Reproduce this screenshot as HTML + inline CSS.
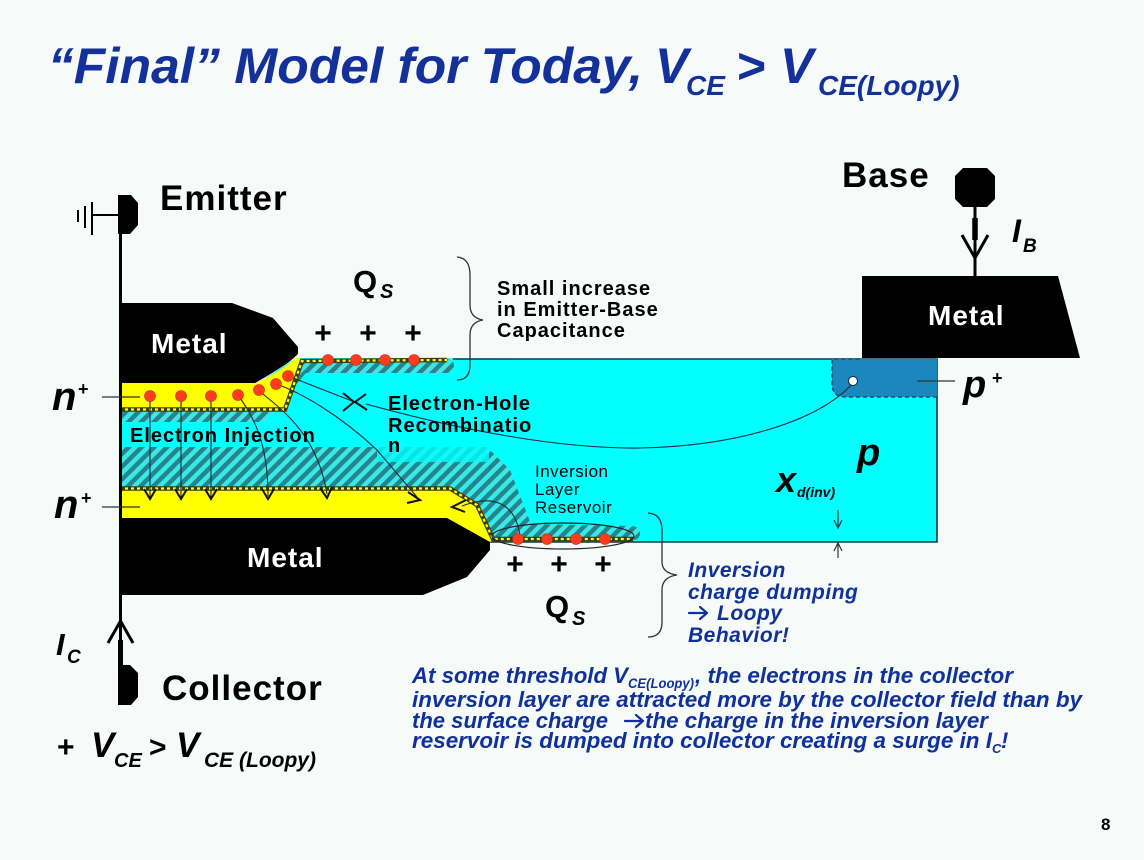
<!DOCTYPE html>
<html>
<head>
<meta charset="utf-8">
<style>
  html, body { margin:0; padding:0; background:#f6faf8; }
  svg { display:block; }
  text { font-family: "Liberation Sans", Arial, sans-serif; }
</style>
</head>
<body>
<svg width="1144" height="860" viewBox="0 0 1144 860" xmlns="http://www.w3.org/2000/svg">
  <defs>
    <pattern id="hatch" width="9" height="9" patternUnits="userSpaceOnUse" patternTransform="rotate(45)">
      <rect width="9" height="9" fill="#3ae8e8"/>
      <rect width="4.5" height="9" fill="#23868c"/>
    </pattern>
  </defs>

  <rect width="1144" height="860" fill="#f6faf8"/>

  <!-- Title -->
  <g fill="#14309a" font-weight="bold" font-style="italic">
    <text x="48" y="83" font-size="50" textLength="595" lengthAdjust="spacingAndGlyphs">“Final” Model for Today,</text>
    <text x="655" y="83" font-size="50">V</text>
    <text x="686" y="95" font-size="28">CE</text>
    <text x="737" y="83" font-size="50" font-style="normal">&gt;</text>
    <text x="780" y="83" font-size="50">V</text>
    <text x="818" y="95" font-size="28">CE(Loopy)</text>
  </g>

  <!-- Cyan body -->
  <polygon points="258,383 296,358 937,359 937,542 490,542 447,518 119,518 119,383" fill="#00ffff"/>
  <polyline points="453,359 937,359 937,542 490,542" fill="none" stroke="#17393a" stroke-width="1.6"/>

  <!-- p+ region -->
  <path d="M832,359 L937,359 L937,397 L846,397 Q832,397 832,384 Z" fill="#1b88bd"/>
  <path d="M937,397 L846,397 Q832,397 832,384 L832,359 L862,359" fill="none" stroke="#1a3a5a" stroke-width="1.3" stroke-dasharray="4 3"/>

  <!-- Emitter depletion (hatched) -->
  <path d="M119,405 L282,405 L298,359 L447,359 Q454,359 454,366 Q454,373 447,373 L306,373 L264,422 L119,422 Z" fill="url(#hatch)"/>
  <!-- Emitter n+ -->
  <path d="M119,383 L256,383 Q280,372 297,357 L303,361 L285,408 L119,408 Z" fill="#ffff00"/>
  <polyline points="119,409.5 285,409.5 302,361 447,360" fill="none" stroke="#3b3b10" stroke-width="4.5"/>
  <polyline points="119,409.5 285,409.5 302,361 447,360" fill="none" stroke="#ffff00" stroke-width="2.2" stroke-dasharray="3 3"/>

  <!-- Collector depletion (hatched) -->
  <path d="M119,447 L487,447 L510,470 L531,524 L632,526 Q640,527 640,533 Q640,540 632,540 L493,540 L477,505 L450,488 L119,488 Z" fill="url(#hatch)"/>
  <rect x="377" y="446" width="112" height="16" fill="#00ffff" opacity="0.78"/>
  <!-- Collector n+ -->
  <path d="M119,490 L450,490 L477,506 L493,540 L490,542 L447,518 L119,518 Z" fill="#ffff00"/>
  <polyline points="119,488.5 450,488.5 477,505 493,539 633,539" fill="none" stroke="#3b3b10" stroke-width="4.5"/>
  <polyline points="119,488.5 450,488.5 477,505 493,539 633,539" fill="none" stroke="#ffff00" stroke-width="2.2" stroke-dasharray="3 3"/>

  <!-- Metals -->
  <path d="M119,303 L232,303 L273,318 L298,347 L298,354 Q290,362 280,368 Q266,377 255,383 L119,383 Z" fill="#000"/>
  <path d="M119,518 L447,518 L490,542 L490,550 L467,577 L423,595 L119,595 Z" fill="#000"/>
  <path d="M862,276 L1058,276 L1080,358 L862,358 Z" fill="#000"/>

  <!-- Electron flow lines -->
  <g fill="none" stroke="#1c2b3a" stroke-width="1.1">
    <path d="M150,396 L150,497"/>
    <path d="M181,396 L181,497"/>
    <path d="M211,396 L211,497"/>
    <path d="M238,395 C252,415 268,440 268,496"/>
    <path d="M259,391 C290,415 318,440 327,494"/>
    <path d="M276,384 C300,392 340,415 377,450 L417,497"/>
    <path d="M288,376 L352,401"/>
    <path d="M520,536 C515,500 490,495 462,506"/>
    <path d="M853,383 C820,420 740,446 640,448 C560,449 460,430 366,404"/>
  </g>
  <g fill="none" stroke="#111" stroke-width="2">
    <polyline points="144,489 150,499 156,489"/>
    <polyline points="175,489 181,499 187,489"/>
    <polyline points="205,489 211,499 217,489"/>
    <polyline points="262,489 268,499 274,489"/>
    <polyline points="320,488 327,498 332,487"/>
    <polyline points="408,492 420,500 407,503"/>
    <polyline points="466,500 452,507 465,512"/>
    <polyline points="343,393 354,402 343,411"/>
    <polyline points="366,394 355,402 367,410"/>
  </g>

  <!-- Red electrons -->
  <g fill="#ff3c1e" stroke="#c82a10" stroke-width="0.6">
    <circle cx="150" cy="396" r="5.5"/>
    <circle cx="181" cy="396" r="5.5"/>
    <circle cx="211" cy="396" r="5.5"/>
    <circle cx="238" cy="395" r="5.5"/>
    <circle cx="259" cy="390" r="5.5"/>
    <circle cx="276" cy="384" r="5.5"/>
    <circle cx="288" cy="376" r="5.5"/>
    <circle cx="328" cy="360" r="5.5"/>
    <circle cx="356" cy="360" r="5.5"/>
    <circle cx="385" cy="360" r="5.5"/>
    <circle cx="414" cy="360" r="5.5"/>
    <circle cx="518" cy="539" r="5.5"/>
    <circle cx="547" cy="539" r="5.5"/>
    <circle cx="576" cy="539" r="5.5"/>
    <circle cx="605" cy="539" r="5.5"/>
  </g>
  <ellipse cx="563" cy="536" rx="71" ry="13" fill="none" stroke="#222" stroke-width="1.2"/>

  <!-- hole -->
  <circle cx="853" cy="381" r="4.5" fill="#fff" stroke="#123" stroke-width="1"/>

  <!-- Terminals / wiring -->
  <line x1="120.5" y1="195" x2="120.5" y2="705" stroke="#000" stroke-width="3"/>
  <path d="M118,195 L131,195 L138,203 L138,225 L130,234 L118,234 Z" fill="#000"/>
  <g stroke="#000" stroke-width="2">
    <line x1="92" y1="215" x2="118" y2="215"/>
    <line x1="92" y1="202" x2="92" y2="235"/>
    <line x1="85" y1="206" x2="85" y2="228"/>
    <line x1="78" y1="210" x2="78" y2="222"/>
  </g>
  <path d="M118,665 L130,665 L138,673 L138,697 L131,705 L118,705 Z" fill="#000"/>
  <line x1="120.5" y1="640" x2="120.5" y2="665" stroke="#000" stroke-width="5"/>
  <polyline points="108,643 120.5,621 133,643" fill="none" stroke="#000" stroke-width="3"/>

  <polygon points="963,168 987,168 995,176 995,199 987,207 963,207 955,199 955,176" fill="#000"/>
  <line x1="975" y1="207" x2="975" y2="276" stroke="#000" stroke-width="3"/>
  <line x1="975" y1="218" x2="975" y2="240" stroke="#000" stroke-width="5.5"/>
  <polyline points="962,235 975,258 988,235" fill="none" stroke="#000" stroke-width="3"/>

  <!-- pointer lines -->
  <g stroke="#333" stroke-width="1.2">
    <line x1="102" y1="397" x2="140" y2="397"/>
    <line x1="102" y1="507" x2="140" y2="507"/>
    <line x1="917" y1="381" x2="955" y2="381"/>
  </g>
  <!-- small arrows x_d -->
  <g fill="none" stroke="#333" stroke-width="1.2">
    <line x1="838" y1="510" x2="838" y2="527"/>
    <polyline points="834,520 838,528 842,520"/>
    <line x1="838" y1="543" x2="838" y2="558"/>
    <polyline points="834,551 838,543 842,551"/>
  </g>

  <!-- Braces -->
  <g fill="none" stroke="#333" stroke-width="1.3">
    <path d="M457,257 Q470,258 470,275 L470,305 Q470,318 483,320 Q470,322 470,335 L470,365 Q470,380 457,380"/>
    <path d="M648,513 Q662,514 662,530 L662,562 Q662,573 677,575 Q662,577 662,590 L662,622 Q662,637 648,637"/>
  </g>

  <!-- Black labels -->
  <g fill="#000" font-weight="bold">
    <text x="160" y="210" font-size="35" letter-spacing="1">Emitter</text>
    <text x="842" y="187" font-size="35" letter-spacing="1">Base</text>
    <text x="162" y="700" font-size="35" letter-spacing="1">Collector</text>

    <text x="353" y="292" font-size="31">Q</text>
    <text x="380" y="298" font-size="20" font-style="italic">S</text>
    <text x="545" y="617" font-size="31">Q</text>
    <text x="572" y="625" font-size="20" font-style="italic">S</text>

    <g font-size="30" text-anchor="middle">
      <text x="323" y="343">+</text>
      <text x="368" y="343">+</text>
      <text x="413" y="343">+</text>
      <text x="515" y="574">+</text>
      <text x="559" y="574">+</text>
      <text x="603" y="574">+</text>
    </g>

    <g font-size="20" letter-spacing="1">
      <text x="497" y="295">Small increase</text>
      <text x="497" y="316">in Emitter-Base</text>
      <text x="497" y="337">Capacitance</text>
      <text x="388" y="410">Electron-Hole</text>
      <text x="388" y="432">Recombinatio</text>
      <text x="388" y="452">n</text>
      <text x="130" y="442">Electron Injection</text>
    </g>

    <g font-style="italic">
      <text x="52" y="410" font-size="40">n</text>
      <text x="78" y="395" font-size="18" font-style="normal">+</text>
      <text x="54" y="518" font-size="40">n</text>
      <text x="81" y="504" font-size="18" font-style="normal">+</text>
      <text x="963" y="397" font-size="38">p</text>
      <text x="992" y="384" font-size="18" font-style="normal">+</text>
      <text x="857" y="465" font-size="38">p</text>
      <text x="776" y="492" font-size="36">x</text>
      <text x="797" y="497" font-size="14">d(inv)</text>
      <text x="1012" y="242" font-size="32">I</text>
      <text x="1023" y="252" font-size="19">B</text>
      <text x="56" y="655" font-size="31">I</text>
      <text x="67" y="663" font-size="19">C</text>
      <text x="57" y="757" font-size="30" font-style="normal">+</text>
      <text x="91" y="757" font-size="35">V</text>
      <text x="114" y="767" font-size="20">CE</text>
      <text x="149" y="757" font-size="30" font-style="normal">&gt;</text>
      <text x="176" y="757" font-size="35">V</text>
      <text x="204" y="767" font-size="21">CE (Loopy)</text>
    </g>

    <text x="1101" y="830" font-size="17">8</text>
  </g>

  <g fill="#000" font-size="17" letter-spacing="0.5">
    <text x="535" y="477">Inversion</text>
    <text x="535" y="495">Layer</text>
    <text x="535" y="513">Reservoir</text>
  </g>

  <!-- Metal labels -->
  <g fill="#fff" font-weight="bold" font-size="28" letter-spacing="1">
    <text x="151" y="353">Metal</text>
    <text x="247" y="567">Metal</text>
    <text x="928" y="325">Metal</text>
  </g>

  <!-- Blue italic annotations -->
  <g fill="#10309a" font-weight="bold" font-style="italic">
    <g font-size="21" letter-spacing="0.5">
      <text x="688" y="577">Inversion</text>
      <text x="688" y="599">charge dumping</text>
      <text x="717" y="620">Loopy</text>
      <text x="688" y="642">Behavior!</text>
    </g>
    <g font-size="22">
      <text x="412" y="683" textLength="216" lengthAdjust="spacingAndGlyphs">At some threshold V</text>
      <text x="628" y="688" font-size="14" textLength="66" lengthAdjust="spacingAndGlyphs">CE(Loopy)</text>
      <text x="695" y="683" textLength="318" lengthAdjust="spacingAndGlyphs">, the electrons in the collector</text>
      <text x="412" y="707" textLength="670" lengthAdjust="spacingAndGlyphs">inversion layer are attracted more by the collector field than by</text>
      <text x="412" y="728" textLength="196" lengthAdjust="spacingAndGlyphs">the surface charge</text>
      <text x="645" y="728" textLength="343" lengthAdjust="spacingAndGlyphs">the charge in the inversion layer</text>
      <text x="412" y="748" textLength="580" lengthAdjust="spacingAndGlyphs">reservoir is dumped into collector creating a surge in I</text>
      <text x="992" y="753" font-size="13">C</text>
      <text x="1001" y="748">!</text>
    </g>
  </g>
  <!-- drawn arrows (→) -->
  <g fill="none" stroke="#10309a" stroke-width="2.2" stroke-linecap="round" stroke-linejoin="round">
    <line x1="689" y1="613" x2="706" y2="613"/>
    <polyline points="700,607 707,613 700,619"/>
    <line x1="625" y1="721" x2="642" y2="721"/>
    <polyline points="636,715 643,721 636,727"/>
  </g>
</svg>
</body>
</html>
